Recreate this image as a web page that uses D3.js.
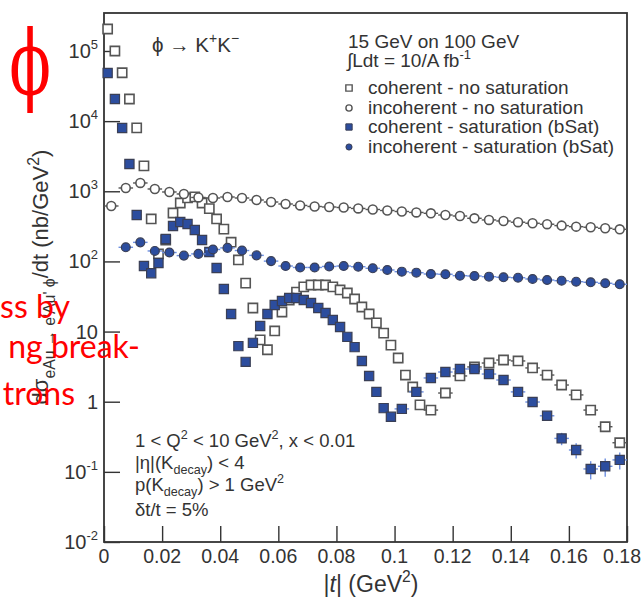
<!DOCTYPE html>
<html><head><meta charset="utf-8">
<script src="https://cdn.jsdelivr.net/npm/d3@7"></script>
<style>body{margin:0;background:#fff}svg{display:block}</style>
</head><body><svg id="c" width="643" height="604"></svg>
<script>
// ---------------- data ----------------
const xTickValues = [0, 0.02, 0.04, 0.06, 0.08, 0.1, 0.12, 0.14, 0.16, 0.18];
const xTickLabels = ["0", "0.02", "0.04", "0.06", "0.08", "0.1", "0.12", "0.14", "0.16", "0.18"];
const yTickValues = [1e-2, 1e-1, 1, 10, 1e2, 1e3, 1e4, 1e5];
const yTickBase = ["10", "10", "1", "10", "10", "10", "10", "10"];
const yTickExp = ["-2", "-1", "", "", "2", "3", "4", "5"];

// coherent - no saturation (open squares)
const cohNoSatT = [0.00125,0.00375,0.00625,0.00875,0.01125,0.01375,0.01625,0.01875,0.02125,0.02375,
  0.02625,0.02875,0.03125,0.03375,0.03625,0.03875,0.04125,0.04375,0.04625,0.04875,
  0.05125,0.05375,0.05625,0.05875,0.06125,0.06375,0.06625,0.06875,0.07125,0.07375,
  0.07625,0.07875,0.08125,0.08375,0.08625,0.08875,0.09125,0.09375,0.09625,0.09875,
  0.10125,0.10375,0.10625,0.10875,
  0.1125,0.1175,0.1225,0.1275,0.1325,0.1375,0.1425,0.1475,0.1525,0.1575,0.1625,0.1675,0.1725,0.1775];
const cohNoSatV = [2.06e5,1.0e5,4.9e4,2.07e4,8.0e3,2.3e3,403,128,202,490,
  681,805,832,681,565,403,289,188,105,49,
  21.7,7.6,5.5,10.2,19.0,28.2,36.6,43.3,46.1,46.1,
  46.1,43.3,39.2,35.5,29.1,22.4,17.8,13.3,9.5,6.4,
  4.2,2.4,1.62,0.90,
  0.76,1.33,2.33,3.13,3.56,3.93,3.81,3.03,2.40,1.73,1.25,0.76,0.44,0.26];
const cohNoSatFineEnd = 0.11;

// coherent - saturation (bSat) (full blue squares)
const cohSatT = [0.00125,0.00375,0.00625,0.00875,0.01125,0.01375,0.01625,0.01875,0.02125,0.02375,
  0.02625,0.02875,0.03125,0.03375,0.03625,0.03875,0.04125,0.04375,0.04625,0.04875,
  0.05125,0.05375,0.05625,0.05875,0.06125,0.06375,0.06625,0.06875,0.07125,0.07375,
  0.07625,0.07875,0.08125,0.08375,0.08625,0.08875,0.09125,0.09375,0.09625,0.09875,
  0.1025,0.1075,0.1125,0.1175,0.1225,0.1275,0.1325,0.1375,0.1425,0.1475,0.1525,0.1575,0.1625,0.1675,0.1725,0.1775];
const cohSatV = [4.86e4,2.07e4,7.98e3,2.45e3,459,86,68,95,209,320,
  365,342,281,202,136,80.6,40.5,17.8,6.2,3.7,
  6.9,12.0,17.8,23.9,27.3,30.1,30.1,28.2,25.5,21.7,
  18.4,14.6,11.6,8.4,6.0,3.8,2.33,1.38,0.81,0.61,
  0.79,1.38,2.18,2.65,2.93,2.93,2.48,2.04,1.38,0.99,0.63,0.30,0.205,0.11,0.12,0.148];
const cohSatFineEnd = 0.1;
const cohSatErrT = [0.1475, 0.1525, 0.1575, 0.1625, 0.1675, 0.1725, 0.1775];
const cohSatErrV = [0.12, 0.09, 0.06, 0.05, 0.032, 0.035, 0.04];

// incoherent - no saturation (open circles)
const incNoSatT = [0.0025,0.0075,0.0125,0.0175,0.0225,0.0275,0.0325,0.0375,0.0425,0.0475,
  0.0525,0.0575,0.0625,0.0675,0.0725,0.0775,0.0825,0.0875,0.0925,0.0975,
  0.1025,0.1075,0.1125,0.1175,0.1225,0.1275,0.1325,0.1375,0.1425,0.1475,
  0.1525,0.1575,0.1625,0.1675,0.1725,0.1775];
const incNoSatV = [617,1114,1313,1078,977,915,816,802,829,802,
  751,703,659,628,607,597,587,569,550,532,
  515,499,485,459,444,412,390,377,362,350,
  339,324,313,307,297,287];

// incoherent - saturation (bSat) (full blue circles)
const incSatT = [0.0075,0.0125,0.0175,0.0225,0.0275,0.0325,0.0375,0.0425,0.0475,
  0.0525,0.0575,0.0625,0.0675,0.0725,0.0775,0.0825,0.0875,0.0925,0.0975,
  0.1025,0.1075,0.1125,0.1175,0.1225,0.1275,0.1325,0.1375,0.1425,0.1475,
  0.1525,0.1575,0.1625,0.1675,0.1725,0.1775];
const incSatV = [159,187,141,134,121,128,148,156,143,
  122,101,86,82,82,84.7,86,84.1,79.8,75.5,
  71.4,69.1,66.2,65.6,62.6,62.0,60.6,59.4,58.6,56.2,
  54.3,53.1,51.4,50.4,48.8,47.2];

const legendLabels = ["coherent - no saturation", "incoherent - no saturation",
  "coherent - saturation (bSat)", "incoherent - saturation (bSat)"];

// ---------------- drawing ----------------
const svg = d3.select("#c");
const X0 = 104, X1 = 627, Y0 = 542, Y1 = 13;
const x = d3.scaleLinear().domain([0, 0.18]).range([X0, X1]);
const y = d3.scaleLog().domain([0.01, 3.48e5]).range([Y0, Y1]);
const AX = "#333", TXT = "#333", GREY = "#555", BLUE = "#2c4d9e", BLUEL = "#6d8fe0";
const FONT = "Liberation Sans, Arial, Helvetica, sans-serif";

svg.append("rect").attr("width", 643).attr("height", 604).attr("fill", "#fff");

// x axis ticks
const xMinor = d3.range(0, 0.1801, 0.005).filter(v => Math.abs(v / 0.02 - Math.round(v / 0.02)) > 1e-6);
const gx = svg.append("g").attr("transform", `translate(0,${Y0})`).style("color", AX);
gx.call(d3.axisBottom(x).tickValues(xMinor).tickSize(-8).tickFormat(""));
gx.call(d3.axisBottom(x).tickValues(xTickValues).tickSize(-16).tickFormat(""));
gx.selectAll(".domain").remove();
gx.selectAll("line").attr("stroke-width", 1.4);
svg.append("g").selectAll("text").data(xTickValues).join("text")
  .attr("x", d => x(d)).attr("y", 563).attr("text-anchor", "middle")
  .attr("font-family", FONT).attr("font-size", 19.5).attr("fill", TXT)
  .text((d, i) => xTickLabels[i])
  .each(function () {
    const b = this.getBBox();
    if (b.x + b.width > 641) d3.select(this).attr("x", 641 - b.width / 2);
  });

// y axis ticks
const yMinor = [];
for (let e = -2; e <= 5; e++) for (let m = 2; m <= 9; m++) { const v = m * Math.pow(10, e); if (v < 3.48e5) yMinor.push(v); }
const gy = svg.append("g").attr("transform", `translate(${X0},0)`).style("color", AX);
gy.call(d3.axisLeft(y).tickValues(yMinor).tickSize(-8).tickFormat(""));
gy.call(d3.axisLeft(y).tickValues(yTickValues).tickSize(-16).tickFormat(""));
gy.selectAll(".domain").remove();
gy.selectAll("line").attr("stroke-width", 1.4);
const ylab = svg.append("g").selectAll("text").data(yTickValues).join("text")
  .attr("x", 98).attr("y", d => y(d) + 7).attr("text-anchor", "end")
  .attr("font-family", FONT).attr("font-size", 20).attr("fill", TXT);
ylab.append("tspan").text((d, i) => yTickBase[i]);
ylab.filter((d, i) => yTickExp[i] !== "").append("tspan").attr("dy", -9).attr("font-size", 13).text(d => yTickExp[yTickValues.indexOf(d)]);

// frame
svg.append("rect").attr("x", X0).attr("y", Y1).attr("width", X1 - X0).attr("height", Y0 - Y1)
  .attr("fill", "none").attr("stroke", AX).attr("stroke-width", 1.8);

// helpers
function series(T, V) { return T.map((t, i) => ({ t, v: V[i] })); }
const plot = svg.append("g");
function hbars(data, half, color) {
  plot.append("g").selectAll("line").data(data).join("line")
    .attr("x1", d => x(d.t - half(d.t))).attr("x2", d => x(d.t + half(d.t)))
    .attr("y1", d => y(d.v)).attr("y2", d => y(d.v))
    .attr("stroke", color).attr("stroke-width", 1.4);
}
const sq = d3.symbol().type(d3.symbolSquare).size(85);
const ci = d3.symbol().type(d3.symbolCircle).size(62);

const cohNoSat = series(cohNoSatT, cohNoSatV);
const cohSat = series(cohSatT, cohSatV);
const incNoSat = series(incNoSatT, incNoSatV);
const incSat = series(incSatT, incSatV);

// coherent no saturation
hbars(cohNoSat, t => t < cohNoSatFineEnd ? 0.00125 : 0.0025, GREY);
plot.append("g").selectAll("path").data(cohNoSat).join("path")
  .attr("transform", d => `translate(${x(d.t)},${y(d.v)})`).attr("d", sq)
  .attr("fill", "#fff").attr("stroke", GREY).attr("stroke-width", 1.6);

// incoherent no saturation
hbars(incNoSat, t => 0.0025, GREY);
plot.append("g").selectAll("path").data(incNoSat).join("path")
  .attr("transform", d => `translate(${x(d.t)},${y(d.v)})`).attr("d", ci)
  .attr("fill", "#fff").attr("stroke", GREY).attr("stroke-width", 1.6);

// coherent saturation
hbars(cohSat, t => t < cohSatFineEnd ? 0.00125 : 0.0025, BLUEL);
const errs = cohSatErrT.map((t, i) => ({ t, e: cohSatErrV[i], v: cohSatV[cohSatT.indexOf(t)] }));
plot.append("g").selectAll("line").data(errs).join("line")
  .attr("x1", d => x(d.t)).attr("x2", d => x(d.t))
  .attr("y1", d => y(d.v - d.e)).attr("y2", d => y(d.v + d.e))
  .attr("stroke", BLUEL).attr("stroke-width", 1.4);
plot.append("g").selectAll("path").data(cohSat).join("path")
  .attr("transform", d => `translate(${x(d.t)},${y(d.v)})`).attr("d", sq)
  .attr("fill", BLUE).attr("stroke", "#3a3f55").attr("stroke-width", 1.2);

// incoherent saturation
hbars(incSat, t => 0.0025, BLUEL);
plot.append("g").selectAll("path").data(incSat).join("path")
  .attr("transform", d => `translate(${x(d.t)},${y(d.v)})`).attr("d", ci)
  .attr("fill", BLUE).attr("stroke", "#3a3f55").attr("stroke-width", 1.2);

// ---------- texts ----------
// parts: strings (normal), or {t, sup|sub, it}
function txt(xp, yp, size, parts, opts = {}) {
  const t = svg.append("text").attr("x", xp).attr("y", yp).attr("font-family", opts.font || FONT)
    .attr("font-size", size).attr("fill", opts.fill || TXT);
  if (opts.anchor) t.attr("text-anchor", opts.anchor);
  let shift = 0;
  parts.forEach(p => {
    const s = t.append("tspan");
    if (typeof p === "string") {
      s.text(p);
      if (shift) { s.attr("dy", -shift); shift = 0; }
    } else {
      const fs = p.sup || p.sub ? size * (opts.subScale || 0.68) : size;
      const target = p.sup ? -size * 0.42 : (p.sub ? size * (opts.subDrop || 0.3) : 0);
      s.text(p.t).attr("font-size", fs);
      if (p.it) s.attr("font-style", "italic");
      if (target - shift) s.attr("dy", target - shift);
      shift = target;
    }
  });
  return t;
}

// process label
txt(152, 52, 20.5, ["\u03D5 \u2192 K", { t: "+", sup: 1 }, "K", { t: "\u2212", sup: 1 }]);

// legend block
txt(348, 48, 19, ["15 GeV on 100 GeV"]);
txt(347, 67, 19, ["\u222BLdt = 10/A fb", { t: "-1", sup: 1 }]);
const legY = [88, 108, 127, 147];
legendLabels.forEach((l, i) => txt(368, legY[i] + 6, 19, [l]));
svg.append("path").attr("transform", `translate(349,${legY[0]})`).attr("d", d3.symbol().type(d3.symbolSquare).size(40))
  .attr("fill", "#fff").attr("stroke", GREY).attr("stroke-width", 1.4);
svg.append("path").attr("transform", `translate(349,${legY[1]})`).attr("d", d3.symbol().type(d3.symbolCircle).size(30))
  .attr("fill", "#fff").attr("stroke", GREY).attr("stroke-width", 1.4);
svg.append("path").attr("transform", `translate(349,${legY[2]})`).attr("d", d3.symbol().type(d3.symbolSquare).size(40))
  .attr("fill", BLUE).attr("stroke", "#3a3f55").attr("stroke-width", 1);
svg.append("path").attr("transform", `translate(349,${legY[3]})`).attr("d", d3.symbol().type(d3.symbolCircle).size(30))
  .attr("fill", BLUE).attr("stroke", "#3a3f55").attr("stroke-width", 1);

// cuts
txt(135, 447, 18.5, ["1 < Q", { t: "2", sup: 1 }, " < 10 GeV", { t: "2", sup: 1 }, ", x < 0.01"]);
txt(135, 469, 18.5, ["|\u03B7|(K", { t: "decay", sub: 1 }, ") < 4"], { subDrop: 0.25 });
txt(135, 491, 18.5, ["p(K", { t: "decay", sub: 1 }, ") > 1 GeV", { t: "2", sup: 1 }], { subDrop: 0.25 });
txt(135, 516, 18.5, ["\u03B4t/t = 5%"]);

// axis titles
txt(371, 592, 23, ["|", { t: "t", it: 1 }, "| (GeV", { t: "2", sup: 1 }, ")"], { anchor: "middle" });
const yt = txt(0, 0, 22, ["d\u03C3", { t: "eAu \u2192 e'Au' \u03D5", sub: 1 }, "/dt (nb/GeV", { t: "2", sup: 1 }, ")"],
  { anchor: "middle", subScale: 0.72 });
yt.attr("transform", "translate(48,277) rotate(-90)");

// red slide overlay
txt(0, 0, 90, ["\u03D5"], { font: "DejaVu Serif, serif", fill: "#ff0000", anchor: "middle" })
  .attr("transform", "translate(30,94) scale(0.68,1)");
txt(70, 318, 32, ["ss by"], { font: "Lato, sans-serif", fill: "#ff0000", anchor: "end" });
txt(140, 358, 32, ["ng break-"], { font: "Lato, sans-serif", fill: "#ff0000", anchor: "end" });
txt(75, 405, 32, ["trons"], { font: "Lato, sans-serif", fill: "#ff0000", anchor: "end" });
</script></body></html>
